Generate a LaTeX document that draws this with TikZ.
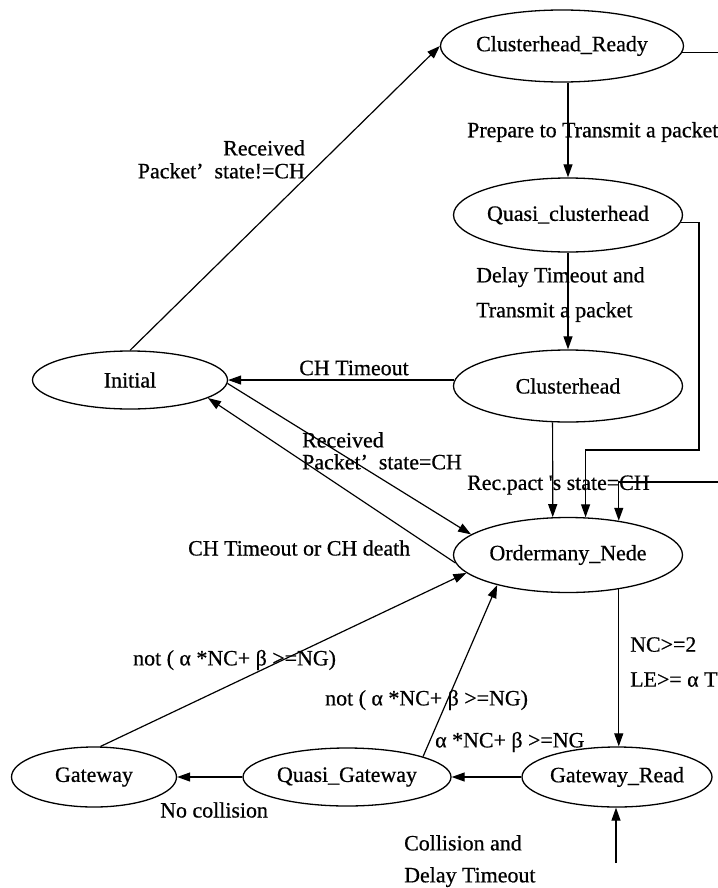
\documentclass[tikz,border=0pt]{standalone}
\usepackage{fontspec}
\setmainfont{Liberation Serif}
\newfontfamily\heavyserif{Liberation Serif}[FakeBold=0.6]
\usetikzlibrary{arrows.meta,shapes.geometric}
\begin{document}
\begin{tikzpicture}[x=1bp,y=-1bp,
  state/.style={draw, ellipse, line width=1.3bp, inner sep=0pt, font=\heavyserif\fontsize{22}{24}\selectfont},
  lbl/.style={font=\heavyserif\fontsize{22}{24}\selectfont, inner sep=0pt},
  conn/.style={line width=1.2bp, -{Triangle[length=13bp,width=9bp]}},
  plain/.style={line width=1.2bp}]
\useasboundingbox (0,0) rectangle (718,888);
% states
\node[state, minimum width=243bp, minimum height=72bp] (cr) at (562,46) {Clusterhead\_Ready};
\node[state, minimum width=228bp, minimum height=74bp] (qc) at (568,215) {Quasi\_clusterhead};
\node[state, minimum width=195bp, minimum height=58bp] (init) at (130,380) {Initial};
\node[state, minimum width=229bp, minimum height=72bp] (ch) at (568,386) {Clusterhead};
\node[state, minimum width=229bp, minimum height=75bp] (on) at (568,555) {Ordermany\_Nede};
\node[state, minimum width=165bp, minimum height=60bp] (gw) at (94,777) {Gateway};
\node[state, minimum width=208bp, minimum height=58bp] (qg) at (347,777) {Quasi\_Gateway};
\node[state, minimum width=190bp, minimum height=60bp] (gr) at (617,777) {Gateway\_Read};
% free ends
\coordinate (crout) at (740,0);
\coordinate (qcr) at (699,450);
\coordinate (rin) at (740,482);
\coordinate (grin) at (616,863);
% connectors
\draw[conn] (init.north) -- (cr.west);
\draw[conn] (cr.south -| qc.north) -- (qc.north);
\draw[plain] (cr.-3) -- (cr.-3 -| crout);
\draw[conn] (qc.south) -- (ch.north);
\draw[conn] (qc.-4) -| (qcr) -| (on.65);
\draw[conn] (ch.177) -- (ch.177 -| init.east);
\draw[conn] (init.-2) -- (on.168);
\draw[conn] (on.184) -- (init.-13);
\draw[conn] (ch.-113) -- (on.112);
\draw[conn] (rin) -| (on.34);
\draw[conn] (on.-34) -- (on.-34 |- gr.north);
\draw[conn] (gr.west) -- (qg.east);
\draw[conn] (qg.west) -- (gw.east);
\draw[conn] (gw.78) -- (on.190);
\draw[conn] (qg.15) -- (on.203);
\draw[conn] (grin) -- (grin |- gr.south);
% labels
\node[lbl, anchor=north east, align=right] (l1) at (305,140) {Received\\[-1bp]Packet’\hspace{0.5em}state!=CH};
\node[lbl, anchor=west] (l2) at (467,132) {Prepare to Transmit a packet};
\node[lbl, anchor=north west, align=left] (l3) at (476,267) {Delay Timeout and\\[11bp]Transmit a packet};
\node[lbl] (l4) at (354,368) {CH Timeout};
\node[lbl, anchor=north west, align=left] (l5) at (302,432) {Received\\[-2bp]Packet’\hspace{0.5em}state=CH};
\node[lbl, anchor=west] (l6) at (467,485) {Rec.pact 's state=CH};
\node[lbl, anchor=west] (l7) at (188,548) {CH Timeout or CH death};
\node[lbl, anchor=north west, align=left] (l8) at (630,637) {NC>=2\\[11bp]LE>= α T};
\node[lbl, anchor=west] (l9) at (133,660) {not ( α *NC+ β >=NG)};
\node[lbl, anchor=west] (l10) at (325,700) {not ( α *NC+ β >=NG)};
\node[lbl, anchor=west] (l11) at (435,742) {α *NC+ β >=NG};
\node[lbl, anchor=west] (l12) at (160,810) {No collision};
\node[lbl, anchor=north west, align=left] (l13) at (404,835) {Collision and\\[8bp]Delay Timeout};
\end{tikzpicture}
\end{document}
